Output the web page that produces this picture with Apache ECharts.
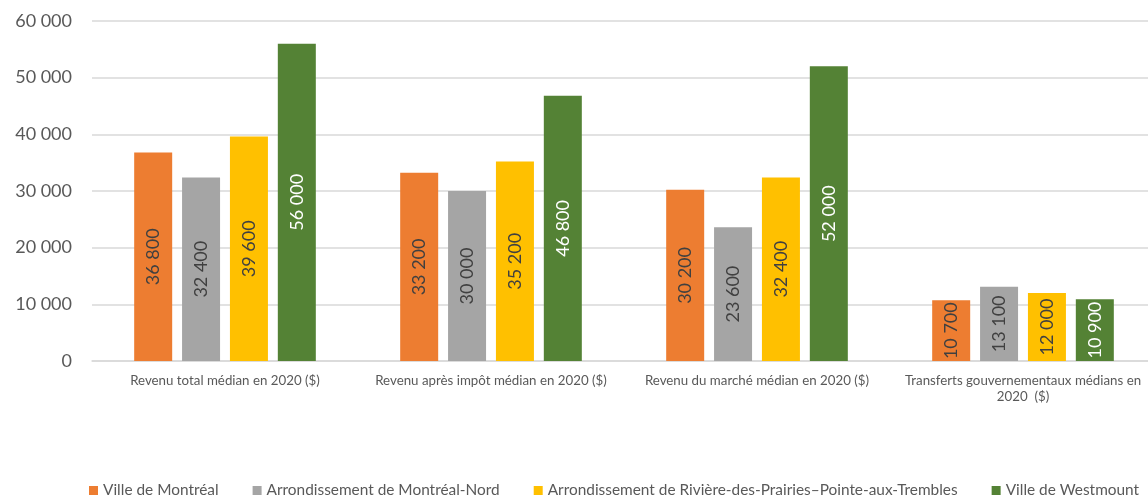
<!DOCTYPE html>
<html>
<head>
<meta charset="utf-8">
<script src="https://cdn.jsdelivr.net/npm/echarts@6/dist/echarts.min.js"></script>
<style>
  html, body { margin: 0; padding: 0; background: #fff; overflow: hidden; }
  #chart { width: 1156px; height: 501px; }
</style>
</head>
<body>
<div id="chart"></div>
<script>
// catégories de revenu
const categories = [
  'Revenu total médian en 2020 ($)',
  'Revenu après impôt médian en 2020 ($)',
  'Revenu du marché médian en 2020 ($)',
  'Transferts gouvernementaux médians en\n2020  ($)'
];
const seriesNames = [
  'Ville de Montréal',
  'Arrondissement de Montréal-Nord',
  'Arrondissement de Rivière-des-Prairies–Pointe-aux-Trembles',
  'Ville de Westmount'
];
const villeMontreal = [36800, 33200, 30200, 10700];
const montrealNord = [32400, 30000, 23600, 13100];
const rdpPat = [39600, 35200, 32400, 12000];
const westmount = [56000, 46800, 52000, 10900];
const yTicks = [0, 10000, 20000, 30000, 40000, 50000, 60000];

const colors = ['#ED7D31', '#A5A5A5', '#FFC000', '#548235'];
const labelColors = ['#404040', '#404040', '#404040', '#ffffff'];
const font = 'Lato, "Open Sans", sans-serif';

function fmt(v) {
  return String(v).replace(/\B(?=(\d{3})+(?!\d))/g, ' ');
}

const myChart = echarts.init(document.getElementById('chart'));
const allData = [villeMontreal, montrealNord, rdpPat, westmount];

const option = {
  animation: false,
  color: colors,
  textStyle: { fontFamily: font },
  grid: { left: 92, right: 0, top: 21, bottom: 140 },
  legend: {
    left: 89,
    top: 483,
    padding: 0,
    icon: 'rect',
    itemWidth: 9,
    itemHeight: 9,
    itemGap: 34,
    textStyle: { color: '#595959', fontSize: 15.4, fontFamily: font }
  },
  xAxis: {
    type: 'category',
    data: categories,
    axisTick: { show: false },
    axisLine: { lineStyle: { color: '#d9d9d9', width: 1.5 } },
    axisLabel: {
      color: '#595959',
      fontSize: 13.3,
      margin: 12,
      interval: 0,
      lineHeight: 16
    }
  },
  yAxis: {
    type: 'value',
    min: yTicks[0],
    max: yTicks[yTicks.length - 1],
    interval: 10000,
    axisLine: { show: false },
    axisTick: { show: false },
    splitLine: { lineStyle: { color: '#d9d9d9', width: 1.5 } },
    axisLabel: {
      color: '#595959',
      fontSize: 18,
      margin: 20,
      formatter: fmt
    }
  },
  series: allData.map((d, i) => ({
    name: seriesNames[i],
    type: 'bar',
    data: d,
    barWidth: 38,
    barGap: '26%',
    label: {
      show: true,
      position: 'inside',
      rotate: 90,
      fontSize: 18,
      color: labelColors[i],
      fontFamily: font,
      formatter: p => fmt(p.value)
    }
  }))
};

myChart.setOption(option);
window.addEventListener('resize', function () {
  myChart.resize();
});
</script>
</body>
</html>
